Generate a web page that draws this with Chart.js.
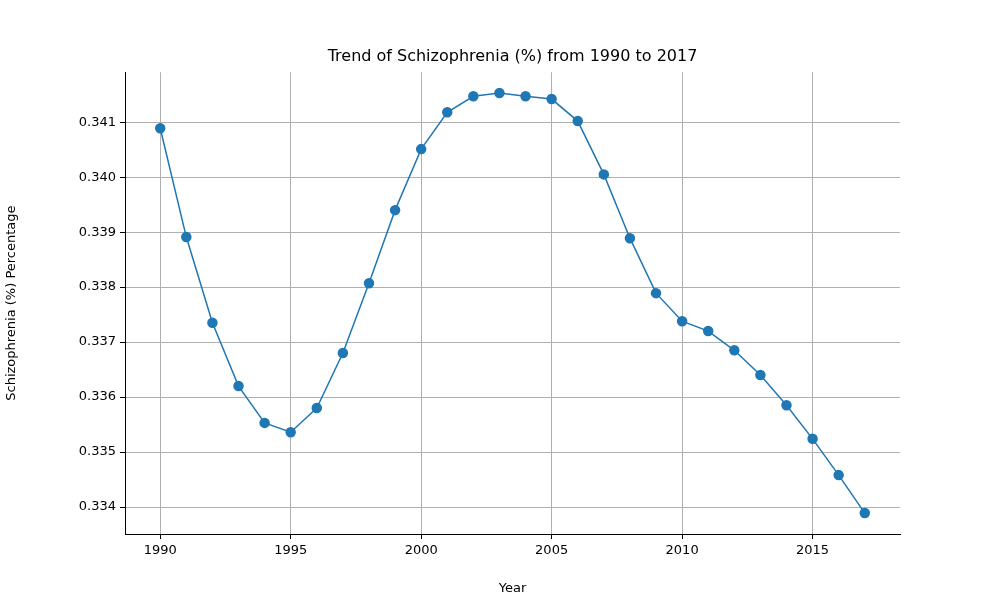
<!DOCTYPE html>
<html>
<head>
<script src="https://cdn.jsdelivr.net/npm/chart.js@4"></script>
<style>body{margin:0;background:#fff}</style>
</head>
<body>
<canvas id="myChart" width="1000" height="600"></canvas>
<script>
// data
const years = [1990,1991,1992,1993,1994,1995,1996,1997,1998,1999,2000,2001,2002,2003,2004,2005,2006,2007,2008,2009,2010,2011,2012,2013,2014,2015,2016,2017];
const values = [0.34089,0.33891,0.33735,0.33620,0.33553,0.33536,0.33580,0.33680,0.33807,0.33940,0.34051,0.34118,0.34147,0.34153,0.34147,0.34142,0.34102,0.34005,0.33889,0.33789,0.33738,0.33720,0.33685,0.33640,0.33585,0.33524,0.33458,0.33389];
const xTicks = [1990,1995,2000,2005,2010,2015];
const yTicks = [0.334,0.335,0.336,0.337,0.338,0.339,0.340,0.341];

Chart.defaults.font.family = 'DejaVu Sans';
Chart.defaults.font.size = 13;
Chart.defaults.color = '#000';

const ctx = document.getElementById('myChart');
new Chart(ctx, {
  type: 'line',
  data: {
    datasets: [{
      data: years.map((y, i) => ({x: y, y: values[i]})),
      borderColor: '#1f77b4',
      backgroundColor: '#1f77b4',
      borderWidth: 1.5,
      pointRadius: 4.5,
      pointHoverRadius: 4.5,
      tension: 0
    }]
  },
  options: {
    responsive: false,
    animation: false,
    devicePixelRatio: 1,
    layout: {padding: {top: 0, right: 100, bottom: 0, left: 0}},
    plugins: {
      legend: {display: false},
      tooltip: {enabled: false},
      title: {
        display: true,
        fullSize: false,
        text: 'Trend of Schizophrenia (%) from 1990 to 2017',
        font: {size: 16, weight: 'normal'},
        padding: {top: 47, bottom: 6}
      }
    },
    scales: {
      x: {
        type: 'linear',
        min: 1988.65,
        max: 2018.35,
        afterBuildTicks: s => { s.ticks = xTicks.map(v => ({value: v})); },
        afterFit: s => { s.height = 66; },
        ticks: {callback: v => String(v), padding: 4},
        grid: {color: '#b0b0b0', tickColor: '#000', tickLength: 5},
        border: {color: '#000'},
        title: {display: true, text: 'Year', padding: {top: 2}}
      },
      y: {
        min: 0.333509,
        max: 0.341909,
        afterBuildTicks: s => { s.ticks = yTicks.map(v => ({value: v})); },
        afterFit: s => { s.width = 125; },
        ticks: {callback: v => v.toFixed(3), padding: 4},
        grid: {color: '#b0b0b0', tickColor: '#000', tickLength: 5},
        border: {color: '#000'},
        title: {display: true, text: 'Schizophrenia (%) Percentage'}
      }
    }
  }
});
</script>
</body>
</html>
